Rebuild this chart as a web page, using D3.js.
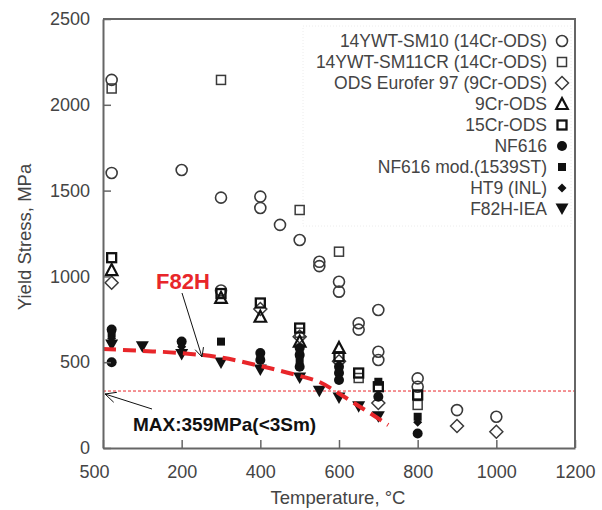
<!DOCTYPE html>
<html><head><meta charset="utf-8">
<script src="https://cdn.jsdelivr.net/npm/d3@7"></script>
<style>
html,body{margin:0;padding:0;background:#fff;}
svg{display:block;font-family:"Liberation Sans",Arial,sans-serif;}
</style></head>
<body>
<svg id="chart" width="602" height="510"></svg>
<script>
// ---- data ----
const xTicks = [0, 200, 400, 600, 800, 1000, 1200];
const xTickLabels = ["500", "200", "400", "600", "800", "1000", "1200"];
const yTicks = [0, 500, 1000, 1500, 2000, 2500];
const yTickLabels = ["0", "500", "1000", "1500", "2000", "2500"];

const seriesNames = ["14YWT-SM10 (14Cr-ODS)", "14YWT-SM11CR (14Cr-ODS)", "ODS Eurofer 97 (9Cr-ODS)",
  "9Cr-ODS", "15Cr-ODS", "NF616", "NF616 mod.(1539ST)", "HT9 (INL)", "F82H-IEA"];
const seriesMarkers = ["circleOpen", "squareOpen", "diamondOpen", "triangleOpen", "squareBold",
  "circleFilled", "squareFilled", "diamondFilled", "triangleDown"];

const sm10 = [[22,2145],[22,1603],[200,1620],[300,1459],[300,918],[400,1465],[400,1399],[450,1300],[500,1212],
  [550,1085],[550,1060],[600,969],[600,911],[650,727],[650,690],[700,804],[700,561],[700,513],
  [800,406],[800,357],[900,221],[1000,182]];
const sm11cr = [[22,2095],[300,2145],[500,1387],[600,1144],[500,672],[650,408],[800,251]];
const eurofer = [[22,963],[400,810],[500,649],[600,505],[700,262],[900,128],[1000,95]];
const cr9 = [[22,1037],[300,875],[400,765],[500,620],[600,583]];
const cr15 = [[22,1109],[300,900],[400,845],[500,699],[600,532],[650,437],[700,357],[800,309]];
const nf616 = [[22,690],[22,500],[200,620],[400,553],[400,513],[500,583],[500,542],[500,474],
  [600,474],[600,437],[600,396],[700,299],[800,85]];
const nf616mod = [[22,668],[300,620],[500,513],[700,386],[800,182]];
const ht9 = [[22,640],[200,590],[400,530],[500,560],[600,455],[800,150]];
const f82hIea = [[22,600],[100,590],[200,545],[300,495],[400,455],[500,408],[550,330],[600,291],[650,241],[700,182]];
const seriesData = [sm10, sm11cr, eurofer, cr9, cr15, nf616, nf616mod, ht9, f82hIea];

const f82hCurve = [[0,577],[100,566],[200,553],[300,527],[400,478],[500,420],[550,385],[600,318],[650,245],[700,172],[725,134]];
const maxLine = 332;
const f82hLabel = "F82H";
const maxLabel = "MAX:359MPa(<3Sm)";

// ---- drawing ----
const svg = d3.select("#chart");
const L = 103, R = 575, T = 19, B = 448;
const x = d3.scaleLinear().domain([0, 1200]).range([L, R]);
const y = d3.scaleLinear().domain([0, 2500]).range([B, T]);
const axisColor = "#666";

// legend faint box
svg.append("rect").attr("x", 303).attr("y", 26).attr("width", 268).attr("height", 200)
  .attr("fill", "none").attr("stroke", "#ececec").attr("stroke-dasharray", "1,2");

// red max line
svg.append("line").attr("x1", x(0)).attr("x2", x(1200)).attr("y1", y(maxLine)).attr("y2", y(maxLine))
  .attr("stroke", "#e8262a").attr("stroke-width", 1).attr("stroke-dasharray", "3,2");

// markers
function drawMarker(g, type, cx, cy) {
  const dark = "#3a3a3a", black = "#111";
  switch (type) {
    case "circleOpen":
      g.append("circle").attr("cx", cx).attr("cy", cy).attr("r", 5.5).attr("fill", "none").attr("stroke", dark).attr("stroke-width", 1.6); break;
    case "squareOpen":
      g.append("rect").attr("x", cx-4.5).attr("y", cy-4.5).attr("width", 9).attr("height", 9).attr("fill", "none").attr("stroke", dark).attr("stroke-width", 1.5); break;
    case "squareBold":
      g.append("rect").attr("x", cx-4.5).attr("y", cy-4.5).attr("width", 9).attr("height", 9).attr("fill", "none").attr("stroke", black).attr("stroke-width", 2.3); break;
    case "diamondOpen":
      g.append("path").attr("d", `M${cx},${cy-6.5}L${cx+6.5},${cy}L${cx},${cy+6.5}L${cx-6.5},${cy}Z`).attr("fill", "none").attr("stroke", dark).attr("stroke-width", 1.5); break;
    case "triangleOpen":
      g.append("path").attr("d", `M${cx},${cy-6}L${cx+5.8},${cy+5}L${cx-5.8},${cy+5}Z`).attr("fill", "none").attr("stroke", black).attr("stroke-width", 2.2); break;
    case "circleFilled":
      g.append("circle").attr("cx", cx).attr("cy", cy).attr("r", 5).attr("fill", black); break;
    case "squareFilled":
      g.append("rect").attr("x", cx-4).attr("y", cy-4).attr("width", 8).attr("height", 8).attr("fill", black); break;
    case "diamondFilled":
      g.append("path").attr("d", `M${cx},${cy-4.5}L${cx+4.5},${cy}L${cx},${cy+4.5}L${cx-4.5},${cy}Z`).attr("fill", black); break;
    case "triangleDown":
      g.append("path").attr("d", `M${cx-6.5},${cy-5.5}L${cx+6.5},${cy-5.5}L${cx},${cy+6}Z`).attr("fill", black); break;
  }
}

const pts = svg.append("g");
seriesData.forEach((data, i) => {
  data.forEach(d => drawMarker(pts, seriesMarkers[i], x(d[0]), y(d[1])));
});

// F82H curve
svg.append("path").datum(f82hCurve)
  .attr("d", d3.line().x(d => x(d[0])).y(d => y(d[1])).curve(d3.curveMonotoneX))
  .attr("fill", "none").attr("stroke", "#e8262a").attr("stroke-width", 4).attr("stroke-dasharray", "13,7");

// axes
const xAxis = svg.append("g").attr("transform", `translate(0,${B})`)
  .call(d3.axisBottom(x).tickValues(xTicks).tickSizeInner(-8).tickSizeOuter(0).tickPadding(14)
    .tickFormat((d, i) => xTickLabels[i]));
const yAxis = svg.append("g").attr("transform", `translate(${L},0)`)
  .call(d3.axisLeft(y).tickValues(yTicks).tickSizeInner(-8).tickSizeOuter(0).tickPadding(13)
    .tickFormat((d, i) => yTickLabels[i]));
[xAxis, yAxis].forEach(a => {
  a.select(".domain").attr("stroke", axisColor).attr("stroke-width", 2);
  a.selectAll(".tick line").attr("stroke", axisColor).attr("stroke-width", 1.5);
  a.selectAll(".tick text").attr("fill", "#444").style("font-size", "18px")
    .style("font-family", "'Liberation Sans',Arial,sans-serif");
});
xAxis.selectAll(".tick text").attr("dx", (d, i) => i === 0 ? -9 : 0).attr("dy", "0.9em");
// frame
svg.append("path").attr("d", `M${L},${T}H${R}V${B}`).attr("fill", "none").attr("stroke", axisColor).attr("stroke-width", 2);

// axis titles
svg.append("text").attr("x", 338).attr("y", 504).attr("text-anchor", "middle")
  .attr("fill", "#444").style("font-size", "18.5px").text("Temperature, °C");
svg.append("text").attr("transform", "translate(31,237) rotate(-90)").attr("text-anchor", "middle")
  .attr("fill", "#444").style("font-size", "18.5px").text("Yield Stress, MPa");

// legend
const lg = svg.append("g");
seriesNames.forEach((n, i) => {
  const yy = 41 + i * 21;
  lg.append("text").attr("x", 547).attr("y", yy + 6).attr("text-anchor", "end")
    .attr("fill", "#444").style("font-size", "17.5px").text(n);
  drawMarker(lg, seriesMarkers[i], 562, yy);
});

// annotations
function arrowHead(g, x1, y1, x2, y2, len) {
  const a = Math.atan2(y2 - y1, x2 - x1);
  const s = 0.45;
  g.append("path").attr("d",
    `M${x2 - len*Math.cos(a - s)},${y2 - len*Math.sin(a - s)}L${x2},${y2}L${x2 - len*Math.cos(a + s)},${y2 - len*Math.sin(a + s)}`)
    .attr("fill", "none").attr("stroke", "#111").attr("stroke-width", 1);
}
const ann = svg.append("g");
ann.append("text").attr("x", 156).attr("y", 289).attr("fill", "#e8262a").style("font-size", "22px")
  .style("font-weight", "bold").text(f82hLabel);
ann.append("line").attr("x1", 182).attr("y1", 293).attr("x2", 202).attr("y2", 357).attr("stroke", "#111").attr("stroke-width", 1);
arrowHead(ann, 182, 293, 202, 357, 10);
ann.append("text").attr("x", 133).attr("y", 431).attr("fill", "#111").style("font-size", "19px")
  .style("font-weight", "bold").text(maxLabel);
ann.append("line").attr("x1", 152).attr("y1", 409).attr("x2", 105).attr("y2", 394).attr("stroke", "#111").attr("stroke-width", 1);
arrowHead(ann, 152, 409, 105, 394, 12);
</script>
</body></html>
